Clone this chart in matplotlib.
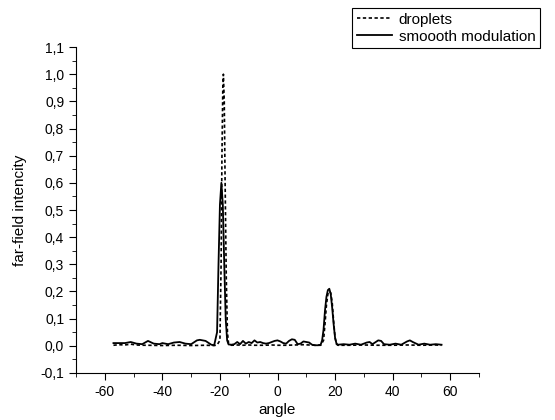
import matplotlib
matplotlib.use("Agg")
import matplotlib.pyplot as plt
from matplotlib.ticker import MultipleLocator, FuncFormatter

# droplets (dashed)
drop_angle = [-57, -55, -53, -51, -49, -47, -45, -40, -35, -30, -25, -22, -21, -20,
              -19.6, -19.3, -19, -18.8, -18.5, -18.2, -17.8, -17.4, -17, -16, -14,
              -12, -10, -8, -5, -2, 0, 3, 6, 9, 11, 13, 15, 16, 16.5, 17, 17.5, 18,
              18.5, 19, 19.5, 20, 20.5, 21, 25, 30, 35, 40, 45, 50, 55, 57]
drop_int = [0.002, 0.004, 0.003, 0.006, 0.003, 0.002, 0.002, 0.001, 0.002, 0.001,
            0.002, 0.001, 0.003, 0.02, 0.3, 0.7, 0.95, 1.0, 0.9, 0.6, 0.25, 0.05,
            0.008, 0.002, 0.003, 0.002, 0.003, 0.002, 0.002, 0.003, 0.002, 0.002,
            0.003, 0.004, 0.003, 0.002, 0.002, 0.02, 0.08, 0.15, 0.19, 0.20, 0.195,
            0.16, 0.09, 0.03, 0.006, 0.002, 0.002, 0.003, 0.002, 0.002, 0.003,
            0.002, 0.003, 0.002]

# smooth modulation (solid)
smooth_angle = [-57, -55, -53, -51, -49, -47, -45, -43, -41, -40, -38, -36, -34, -32,
                -30, -28, -27, -25, -23, -22, -21, -20.5, -20, -19.5, -19, -18.5,
                -18, -17.5, -17, -16, -15, -14, -13, -12, -11, -10, -9, -8, -7, -6,
                -5, -4, -3, -2, -1, 0, 1, 2, 3, 4, 5, 6, 7, 8, 9, 10, 11, 12, 13, 14,
                15, 15.5, 16, 16.5, 17, 17.5, 18, 18.5, 19, 19.5, 20, 20.5, 21, 23,
                25, 27, 29, 31, 32, 33, 35, 36, 37, 39, 41, 43, 45, 46, 47, 49, 51,
                53, 55, 57]
smooth_int = [0.010, 0.010, 0.010, 0.014, 0.008, 0.006, 0.018, 0.008, 0.006, 0.010,
              0.006, 0.012, 0.014, 0.008, 0.006, 0.020, 0.022, 0.018, 0.004, 0.002,
              0.05, 0.30, 0.52, 0.60, 0.52, 0.30, 0.10, 0.02, 0.005, 0.004, 0.006,
              0.014, 0.006, 0.018, 0.008, 0.014, 0.010, 0.020, 0.012, 0.014, 0.010,
              0.008, 0.010, 0.014, 0.018, 0.020, 0.016, 0.010, 0.008, 0.018, 0.024,
              0.022, 0.006, 0.008, 0.016, 0.014, 0.012, 0.004, 0.002, 0.002, 0.004,
              0.02, 0.06, 0.13, 0.18, 0.205, 0.21, 0.19, 0.14, 0.08, 0.03, 0.008,
              0.004, 0.006, 0.004, 0.008, 0.004, 0.012, 0.014, 0.006, 0.020, 0.018,
              0.006, 0.004, 0.008, 0.004, 0.016, 0.020, 0.014, 0.004, 0.008, 0.004,
              0.006, 0.004]

plt.rcParams['font.family'] = ['Liberation Sans', 'DejaVu Sans']

fig = plt.figure(figsize=(5.55, 4.2), dpi=100)
ax = fig.add_axes([0.137, 0.112, 0.726, 0.776])

l1, = ax.plot(drop_angle, drop_int, color='black', lw=1.2, linestyle=(0, (2, 1.5)),
              label='droplets')
l2, = ax.plot(smooth_angle, smooth_int, color='black', lw=1.3, label='smoooth modulation')

ax.set_xlim(-70, 70)
ax.set_ylim(-0.1, 1.1)
ax.xaxis.set_major_locator(MultipleLocator(20))
ax.xaxis.set_minor_locator(MultipleLocator(10))
ax.yaxis.set_major_locator(MultipleLocator(0.1))
ax.yaxis.set_minor_locator(MultipleLocator(0.05))
ax.yaxis.set_major_formatter(FuncFormatter(lambda v, p: f"{v:.1f}".replace('.', ',').replace('-0,0', '0,0')))
ax.xaxis.set_major_formatter(FuncFormatter(lambda v, p: f"{v:.0f}"))
ax.tick_params(which='major', direction='out', length=5, labelsize=10)
ax.tick_params(which='minor', direction='out', length=3)
ax.spines['top'].set_visible(False)
ax.spines['right'].set_visible(False)
ax.set_xlabel('angle', fontsize=11, labelpad=3)
ax.set_ylabel('far-field intencity', fontsize=11, labelpad=10)

leg = fig.legend(handles=[l1, l2], loc='upper left', bbox_to_anchor=(352 / 555, 1 - 8 / 420),
                 fancybox=False, framealpha=1, edgecolor='black', fontsize=11,
                 handlelength=2.3, borderpad=0.3, labelspacing=0.2, handletextpad=0.45,
                 borderaxespad=0)
leg.get_frame().set_linewidth(0.8)

fig.savefig('out.png', dpi=100)
